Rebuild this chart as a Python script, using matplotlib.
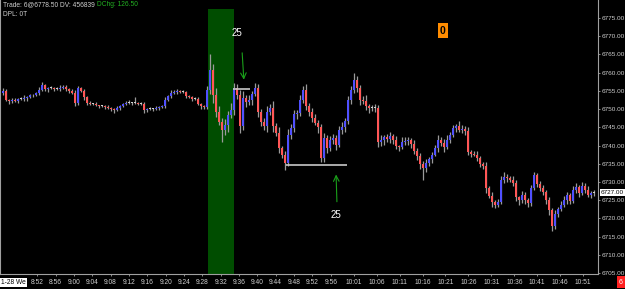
import matplotlib.pyplot as plt
import numpy as np

plt.rcParams['font.family'] = ['Liberation Sans', 'DejaVu Sans']

# ES candles, values
closes = [
    6755, 6752.5, 6752.25, 6752.5, 6752.25, 6752.75, 6752.75, 6753, 6753.25, 6753.75,
    6753.75, 6754.5, 6755.25, 6756.5, 6755.5, 6755.75, 6755.75, 6755.5, 6755.5, 6755.75,
    6756, 6755.5, 6755, 6754.5, 6751.75, 6755.75, 6755, 6753.25, 6751.75, 6751.5,
    6751.5, 6751, 6750.75, 6750.75, 6750.5, 6750.25, 6750, 6749.75, 6750.25, 6750.75,
    6751.5, 6751.75, 6751.75, 6751.75, 6751.75, 6751.5, 6751.5, 6749.75, 6750, 6750,
    6750, 6750.25, 6750.5, 6750.75, 6752.5, 6753.5, 6754.5, 6754.75, 6755, 6754.75,
    6754.75, 6753.5, 6753.25, 6752.75, 6752.75, 6751.5, 6750.75, 6750.5, 6755.25, 6760.75,
    6753.75, 6749.25, 6746.5, 6744.25, 6745.75, 6748.5, 6749.75, 6755.75, 6753.75, 6745.25,
    6753, 6752, 6752.5, 6754.25, 6755.75, 6749.25, 6746.5, 6745.25, 6749.25, 6750.25,
    6745.25, 6743.5, 6739.25, 6737.5, 6735.25, 6743, 6744.75, 6748.75, 6749, 6752.5,
    6755.25, 6750.75, 6749.25, 6747.5, 6746.25, 6745, 6736.5, 6742, 6739.25, 6741.5,
    6742, 6740.25, 6744.25, 6745, 6746.75, 6752.5, 6755.25, 6758, 6755.75, 6752.5,
    6752.25, 6750.75, 6750.25, 6750.25, 6750.25, 6741, 6741.5, 6742.25, 6741.75, 6742.5,
    6741.5, 6739.75, 6739.5, 6741, 6741.25, 6741.5, 6740.5, 6738.5, 6737, 6735,
    6733.75, 6735.25, 6736.25, 6737.5, 6739.25, 6741.5, 6740.75, 6739.5, 6741.5, 6743,
    6744.75, 6745.25, 6744.25, 6744.5, 6744, 6738.25, 6737.75, 6737.5, 6736.5, 6735,
    6734.5, 6728.25, 6726.25, 6724.5, 6723.75, 6724.5, 6730.5, 6731.25, 6731, 6730.5,
    6729.75, 6725.75, 6725, 6726.5, 6725, 6724.25, 6728.25, 6732, 6729.5, 6728.25,
    6727.25, 6725, 6722.25, 6718, 6721.25, 6722.5, 6723.75, 6725, 6726.5, 6724.75,
    6727.75, 6728.5, 6727, 6729, 6727.75, 6726.5, 6727, 6727,
]
first_open = 6754.5

wick_hi = [
    0.75, 0.5, 0.25, 0.5, 0.5, 0.25, 0.5, 0.75, 0.25, 0.5,
    0.5, 0.25, 0.75, 1.0, 0.5, 0.25, 0.5, 0.25, 0.5, 0.75,
    0.5, 0.5, 0.25, 0.5, 0.75, 0.5, 0.25, 0.5, 0.25, 0.5,
    0.25, 0.5, 0.25, 0.5, 0.25, 0.5, 0.25, 0.25, 0.5, 0.5,
    0.25, 0.5, 0.75, 0.25, 1.5, 0.25, 0.5, 0.5, 0.25, 0.5,
    0.25, 0.5, 0.25, 0.5, 0.75, 0.5, 0.75, 0.5, 0.5, 0.25,
    0.5, 0.25, 0.5, 0.25, 0.5, 0.5, 0.25, 0.5, 1.0, 4.5,
    1.5, 2.0, 1.5, 1.0, 1.5, 1.0, 2.0, 1.5, 1.0, 1.5,
    2.0, 1.0, 1.5, 0.75, 1.5, 1.0, 0.75, 1.0, 1.5, 1.25,
    2.0, 1.0, 1.5, 0.75, 1.0, 1.5, 1.25, 1.0, 0.75, 1.5,
    1.0, 1.5, 1.0, 1.0, 1.25, 0.75, 1.0, 1.5, 0.75, 1.0,
    1.25, 0.75, 1.0, 1.5, 0.75, 1.0, 1.0, 2.0, 1.0, 0.75,
    1.0, 1.5, 0.75, 1.0, 1.25, 1.0, 1.5, 0.75, 1.0, 1.25,
    0.75, 1.0, 0.5, 1.25, 1.0, 0.75, 0.5, 1.0, 0.75, 1.0,
    0.75, 1.0, 0.5, 0.75, 1.0, 1.5, 0.75, 1.0, 1.25, 0.75,
    1.0, 0.75, 1.5, 1.0, 0.75, 1.0, 0.5, 0.75, 1.0, 0.75,
    0.5, 1.0, 0.75, 1.0, 0.5, 0.75, 1.0, 1.5, 1.0, 0.75,
    1.0, 0.75, 0.5, 1.0, 0.75, 0.5, 1.0, 0.75, 0.5, 0.75,
    1.0, 0.5, 0.75, 0.5, 1.0, 0.75, 1.0, 1.25, 0.75, 0.5,
    1.0, 1.25, 0.75, 1.0, 0.75, 1.0, 0.5, 0.75,
]
wick_lo = [
    0.5, 0.25, 0.75, 0.5, 0.25, 0.5, 0.25, 0.5, 0.75, 0.25,
    0.5, 0.25, 0.5, 0.25, 0.5, 0.75, 0.25, 0.5, 0.25, 0.5,
    0.25, 0.5, 0.5, 0.25, 1.0, 0.5, 0.25, 0.75, 0.5, 0.25,
    0.5, 0.25, 0.5, 0.25, 0.5, 0.25, 0.5, 0.75, 0.25, 0.5,
    0.25, 0.5, 0.25, 0.5, 0.25, 0.5, 0.25, 0.75, 0.5, 0.25,
    0.5, 0.25, 0.5, 0.25, 0.5, 0.25, 0.5, 0.25, 0.5, 0.25,
    0.25, 0.5, 0.25, 0.5, 0.25, 0.5, 0.75, 0.5, 0.5, 1.0,
    2.0, 1.5, 1.0, 3.25, 1.5, 2.0, 1.0, 1.5, 1.0, 1.75,
    1.0, 1.5, 1.0, 1.25, 0.75, 1.5, 1.25, 1.0, 1.5, 1.0,
    1.5, 1.0, 1.25, 1.0, 2.0, 1.0, 1.25, 1.0, 1.5, 1.0,
    0.75, 1.0, 1.25, 1.0, 0.75, 1.5, 1.0, 1.0, 1.25, 0.75,
    1.0, 1.5, 0.75, 1.0, 1.25, 0.75, 1.0, 0.75, 1.0, 1.25,
    0.75, 1.0, 1.25, 0.75, 1.0, 1.5, 1.0, 1.25, 0.75, 1.0,
    1.0, 0.75, 1.0, 0.5, 0.75, 1.0, 1.25, 0.75, 1.0, 1.5,
    3.25, 1.0, 0.75, 1.0, 0.5, 1.0, 0.75, 1.25, 0.5, 0.75,
    0.75, 1.0, 0.5, 0.75, 1.0, 0.75, 1.0, 0.5, 0.75, 1.0,
    1.0, 1.25, 0.75, 1.5, 1.0, 0.75, 0.5, 0.75, 1.0, 0.5,
    0.75, 1.0, 1.25, 0.75, 1.0, 1.25, 0.75, 0.5, 1.0, 0.75,
    0.75, 1.0, 1.25, 1.5, 1.0, 0.75, 0.5, 0.75, 1.0, 0.75,
    0.5, 0.75, 1.0, 0.5, 0.75, 0.5, 1.0, 0.75,
]

time_labels = ["8:52", "8:56", "9:00", "9:04", "9:08", "9:12", "9:16", "9:20", "9:24",
               "9:28", "9:32", "9:36", "9:40", "9:44", "9:48", "9:52", "9:56", "10:01",
               "10:06", "10:11", "10:16", "10:21", "10:26", "10:31", "10:36", "10:41",
               "10:46", "10:51"]
price_ticks = [6705, 6710, 6715, 6720, 6725, 6730, 6735, 6740, 6745, 6750,
               6755, 6760, 6765, 6770, 6775]

# annotation levels
upper_level = 6755.6
lower_level = 6734.6
last_price = 6727.0

UP = '#5050ff'
DOWN = '#ff5656'
WICK = '#9a9a9a'
TXT = '#cfcfcf'


def minutes(label):
    h, m = label.split(':')
    return int(h) * 60 + int(m) - 480


# Figure / axes
fig = plt.figure(figsize=(6.25, 2.89), dpi=100, facecolor='black')
ax = fig.add_axes([0, 15 / 289, 598 / 625, 274 / 289], facecolor='black')

px_per_min = 4.588
t_left = 43.9
t0 = t_left + 3 / px_per_min
dt = 3 / px_per_min

closes = np.array(closes)
opens = np.concatenate([[first_open], closes[:-1]])
highs = np.maximum(opens, closes) + np.array(wick_hi)
lows = np.minimum(opens, closes) - np.array(wick_lo)
t = t0 + dt * np.arange(len(closes))

# opening range band
ax.axvspan(t_left + 208 / px_per_min, t_left + 234 / px_per_min,
           ymin=0, ymax=1 - 9 / 274, color='#004d00', zorder=0, lw=0)

# candles
colors = [UP if c > o else DOWN if c < o else '#d0d0d0' for o, c in zip(opens, closes)]
ax.vlines(t, lows, highs, color=WICK, lw=0.9, zorder=2)
body = np.maximum(np.abs(closes - opens), 0.25)
ax.bar(t, body, bottom=np.minimum(opens, closes), width=0.48,
       color=colors, lw=0, zorder=3)

# levels and arrows
ax.hlines(upper_level, t_left + 233 / px_per_min, t_left + 250 / px_per_min,
          color='#c8c8c8', lw=1.2, zorder=4)
ax.hlines(lower_level, t_left + 286 / px_per_min, t_left + 347 / px_per_min,
          color='#c8c8c8', lw=1.2, zorder=4)
ax.annotate('', xy=(t_left + 244 / px_per_min, 6757.3),
            xytext=(t_left + 242 / px_per_min, 6766.2),
            arrowprops=dict(arrowstyle='->', color='#1aa01a', lw=0.8))
ax.annotate('', xy=(t_left + 336 / px_per_min, 6732.8),
            xytext=(t_left + 337 / px_per_min, 6723.8),
            arrowprops=dict(arrowstyle='->', color='#1aa01a', lw=0.8))
ax.text(t_left + 237 / px_per_min, 6770.9, '25', color='white', fontsize=7,
        ha='center', va='center')
ax.text(t_left + 336 / px_per_min, 6720.9, '25', color='white', fontsize=7,
        ha='center', va='center')
ax.text(443 / 598, 1 - 30.5 / 274, '0', transform=ax.transAxes, color='black',
        fontsize=7.5, fontweight='bold', ha='center', va='center',
        bbox=dict(boxstyle='square,pad=0.25', fc='#ff8c00', ec='none'))

# axes styling
ax.set_xlim(t_left, t_left + 598 / px_per_min)
ax.set_ylim(6775 - 256 * 0.2745, 6775 + 18 * 0.2745)
ax.spines['top'].set_visible(False)
for side in ['left', 'right', 'bottom']:
    ax.spines[side].set_color('#a0a0a0')
    ax.spines[side].set_linewidth(0.8)

ax.yaxis.tick_right()
ax.set_yticks(price_ticks)
ax.set_yticklabels([f'{p:.2f}' for p in price_ticks])
ax.tick_params(axis='y', colors='#a0a0a0', labelcolor=TXT, labelsize=4.6,
               length=1.5, width=0.6, pad=0.8)
ax.set_xticks([minutes(s) for s in time_labels])
ax.set_xticklabels(time_labels)
ax.tick_params(axis='x', colors='#a0a0a0', labelcolor=TXT, labelsize=4.8,
               length=1.5, width=0.6, pad=2)

# last price tag
ax.annotate(f'{last_price:.2f}', xy=(1, last_price), xycoords=('axes fraction', 'data'),
            xytext=(1.8, 0), textcoords='offset points', ha='left', va='center',
            fontsize=4.6, color='black', annotation_clip=False,
            bbox=dict(boxstyle='square,pad=0.15', fc='white', ec='none'))

# header / corner texts
fig.text(3 / 625, 1 - 5 / 289, 'Trade: 6@6778.50 DV: 456839', color=TXT,
         fontsize=4.8, ha='left', va='center')
fig.text(97 / 625, 1 - 5 / 289, 'DChg: 126.50', color='#22b022',
         fontsize=4.8, ha='left', va='center')
fig.text(3 / 625, 1 - 15 / 289, 'DPL: 0T', color=TXT,
         fontsize=4.8, ha='left', va='center')
fig.text(1 / 625, 1 - 282 / 289, '1-28 We', color='black', fontsize=4.8,
         ha='left', va='center',
         bbox=dict(boxstyle='square,pad=0.15', fc='white', ec='none'))
fig.text(621 / 625, 1 - 282 / 289, '6', color='white', fontsize=5,
         ha='center', va='center',
         bbox=dict(boxstyle='square,pad=0.35', fc='#ff2020', ec='none'))

fig.savefig('out.png', dpi=100, facecolor='black')
